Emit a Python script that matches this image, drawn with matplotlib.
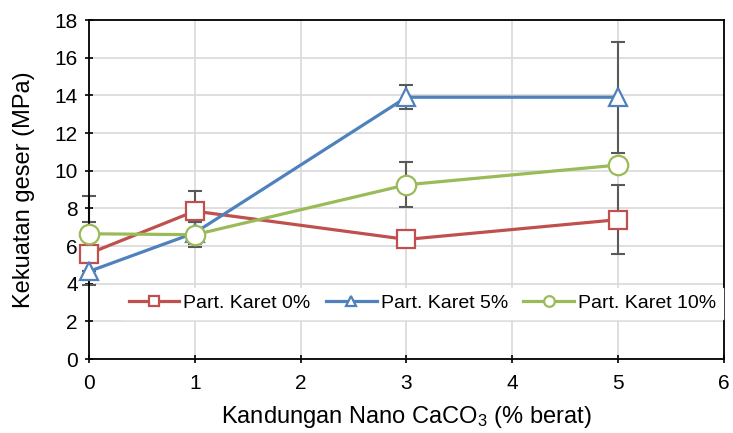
import matplotlib
matplotlib.use("Agg")
import matplotlib.pyplot as plt

plt.rcParams['font.family'] = ['Liberation Sans', 'DejaVu Sans']
plt.rcParams['mathtext.default'] = 'regular'

# data
x = [0, 1, 3, 5]
karet0 = [5.6, 7.85, 6.35, 7.4]
karet0_err = [1.65, 1.05, 0.0, 1.85]
karet5 = [4.65, 6.7, 13.9, 13.9]
karet5_err = [0.0, 0.6, 0.65, 2.95]
karet10 = [6.65, 6.6, 9.25, 10.3]
karet10_err = [2.0, 0.65, 1.2, 0.0]
labels = ['Part. Karet 0%', 'Part. Karet 5%', 'Part. Karet 10%']

fig = plt.figure(figsize=(7.33, 4.33), dpi=100)
ax = fig.add_axes([0.1214, 0.1709, 0.8663, 0.7829])

series = [
    (karet0, karet0_err, '#C0504D', 's', 13),
    (karet5, karet5_err, '#4F81BD', '^', 13),
    (karet10, karet10_err, '#9BBB59', 'o', 14),
]
for (y, err, col, mk, ms), lab in zip(series, labels):
    eb = ax.errorbar(x, y, yerr=err, fmt='none', ecolor='#595959', elinewidth=1.5,
                     capsize=5, capthick=1.5, zorder=2)
    for art in eb.lines[1] + eb.lines[2]:
        art.set_clip_on(False)
    ax.plot(x, y, color=col, lw=2.3, marker=mk, markersize=ms,
            markerfacecolor='white', markeredgecolor=col, markeredgewidth=1.6,
            label=lab, zorder=3, clip_on=False)

ax.set_xlim(0, 6)
ax.set_ylim(0, 18)
ax.set_xticks(range(0, 7))
ax.set_yticks(range(0, 19, 2))
ax.grid(True, color='#D9D9D9', lw=1.2)
ax.set_axisbelow(True)
for s in ax.spines.values():
    s.set_color('black')
    s.set_linewidth(1.3)
ax.tick_params(axis='both', direction='inout', length=6, width=1.2,
               labelsize=15, pad=5)
ax.tick_params(axis='x', pad=8)

ax.set_xlabel('Kandungan Nano CaCO$_3$ (% berat)', fontsize=17, labelpad=8)
ax.set_ylabel('Kekuatan geser (MPa)', fontsize=17, labelpad=14)

leg = ax.legend(loc='lower center', bbox_to_anchor=(0.525, 0.09), ncol=3,
                frameon=True, fancybox=False, edgecolor='white', framealpha=1,
                markerscale=0.55, fontsize=14, handlelength=2.6,
                columnspacing=0.8, handletextpad=0.2, borderpad=0.35)
leg.set_zorder(5)

fig.savefig('out.png', dpi=100)
